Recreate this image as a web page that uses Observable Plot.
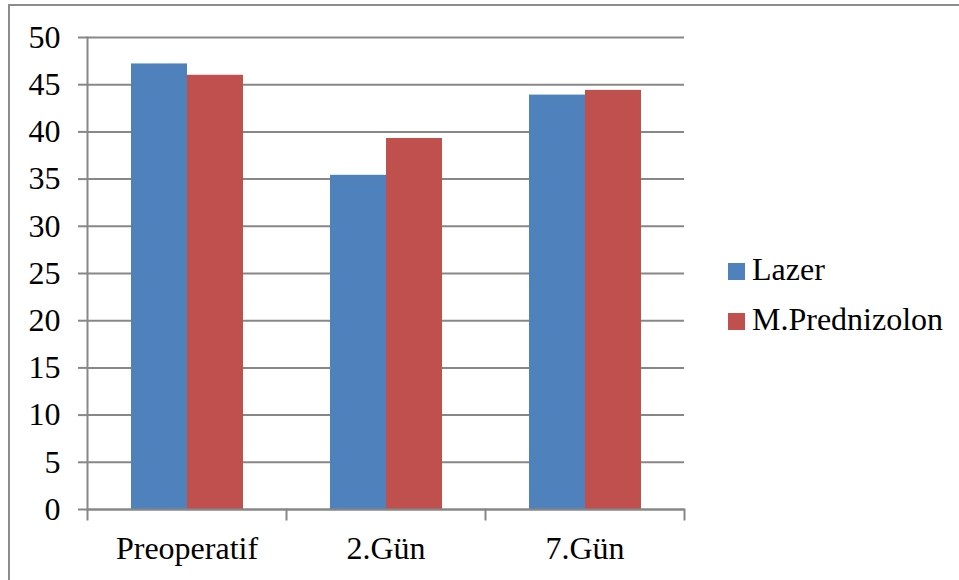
<!DOCTYPE html>
<html>
<head>
<meta charset="utf-8">
<script src="https://cdn.jsdelivr.net/npm/d3@7"></script>
<script src="https://cdn.jsdelivr.net/npm/@observablehq/plot@0.6"></script>
<style>
  html, body { margin: 0; padding: 0; background: #fff; }
  #wrap { position: relative; width: 959px; height: 580px; overflow: hidden; font-family: "Liberation Serif", "Times New Roman", serif; }
  #border { position: absolute; left: 8px; top: 4px; right: -10px; bottom: -10px;
            border-top: 2px solid #8c8c8c; border-left: 2px solid #8c8c8c; }
  #chart { position: absolute; left: 0; top: 0; }
  #legend { position: absolute; left: 728px; top: 244px; font-size: 32px; color: #000; }
  .item { display: flex; align-items: center; height: 50px; white-space: nowrap; }
  .swatch { width: 17px; height: 17px; margin-right: 7px; margin-top: 4px; }
</style>
</head>
<body>
<div id="wrap">
  <div id="border"></div>
  <div id="chart"></div>
  <div id="legend"></div>
</div>
<script>
// Groups (time points) and the two treatment series
const categories = ["Preoperatif", "2.Gün", "7.Gün"];
const series = ["Lazer", "M.Prednizolon"];
const lazer = [47.2, 35.4, 43.9];
const prednizolon = [46.0, 39.3, 44.4];
const yTicks = [0, 5, 10, 15, 20, 25, 30, 35, 40, 45, 50];
const colors = ["#4f81bd", "#c0504d"];

const rows = categories.flatMap((cat, i) => [
  {cat, series: series[0], value: lazer[i]},
  {cat, series: series[1], value: prednizolon[i]}
]);

const W = 959, H = 580;
const margin = {top: 37, right: 274, bottom: 71, left: 86};
const plotH = H - margin.top - margin.bottom;
const gray = "#878787";

const chart = Plot.plot({
  width: W,
  height: H,
  marginTop: margin.top,
  marginRight: margin.right,
  marginBottom: margin.bottom,
  marginLeft: margin.left,
  style: {fontFamily: "'Liberation Serif', 'Times New Roman', serif", fontSize: "32px", color: "#000", background: "transparent"},
  fx: {domain: categories, padding: 0},
  x: {domain: series, paddingInner: 0, paddingOuter: 0.75, axis: null},
  y: {domain: [0, 50]},
  color: {domain: series, range: colors},
  marks: [
    Plot.gridY({ticks: yTicks, stroke: gray, strokeOpacity: 1, strokeWidth: 2}),
    Plot.barY(rows, {fx: "cat", x: "series", y: "value", fill: "series"}),
    Plot.axisY({ticks: yTicks, tickSize: 9, tickPadding: 18, stroke: gray, strokeWidth: 2, fill: "#000", fontSize: 32, label: null}),
    Plot.axisFx({anchor: "bottom", tickSize: 0, tickPadding: 27, fill: "#000", fontSize: 32, label: null}),
    // value axis line and the category-boundary tick marks below the baseline
    Plot.frame({anchor: "left", facetAnchor: "left", stroke: gray, strokeWidth: 2}),
    Plot.frame({anchor: "left", insetTop: plotH, insetBottom: -10, stroke: gray, strokeWidth: 2}),
    Plot.frame({anchor: "right", facetAnchor: "right", insetTop: plotH, insetBottom: -10, stroke: gray, strokeWidth: 2}),
    Plot.ruleY([0], {stroke: gray, strokeWidth: 2})
  ]
});
document.getElementById("chart").appendChild(chart);

const legend = document.getElementById("legend");
series.forEach((s, i) => {
  const item = document.createElement("div");
  item.className = "item";
  const sw = document.createElement("span");
  sw.className = "swatch";
  sw.style.background = colors[i];
  const label = document.createElement("span");
  label.textContent = s;
  item.appendChild(sw);
  item.appendChild(label);
  legend.appendChild(item);
});
</script>
</body>
</html>
